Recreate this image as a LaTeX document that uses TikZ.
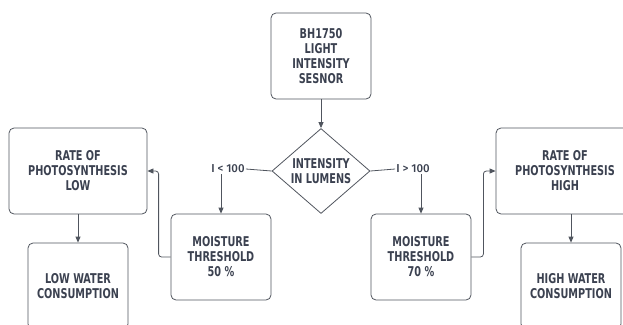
\documentclass[tikz,border=0pt]{standalone}
\usepackage{fontspec}
\setmainfont{Fira Sans}
\newfontfamily\boxfont{DejaVu Sans Condensed}[FakeStretch=0.8]
\newfontfamily\condfont{Fira Sans Medium}
\usepackage{xcolor}
\usepackage{tikz}
\usetikzlibrary{shapes.geometric, positioning, arrows.meta}

\definecolor{inkgray}{HTML}{3B4150}
\definecolor{linegray}{HTML}{50555E}

\begin{document}
\begin{tikzpicture}[x=1pt, y=-1pt,
        component/.style={
                rectangle,
                rounded corners=5pt,
                draw=linegray,
                line width=0.8pt,
                align=center,
                text=inkgray,
                font=\boxfont\bfseries\fontsize{13.5}{15}\selectfont,
                minimum width=100pt,
                minimum height=86pt,
                inner sep=0pt,
        },
        decision/.style={
                diamond,
                draw=linegray,
                line width=0.8pt,
                align=center,
                text=inkgray,
                font=\boxfont\bfseries\fontsize{13.5}{15}\selectfont,
                minimum width=98pt,
                minimum height=85pt,
                inner sep=0pt,
                aspect=1.15,
        },
        cond/.style={text=inkgray, font=\condfont\fontsize{11.5}{13}\selectfont, inner sep=1pt},
        link/.style={draw=linegray, line width=0.8pt},
        flow/.style={link, rounded corners=3pt, -{Triangle[length=6pt, width=5pt]}},
        ]
            \clip (0, 0) rectangle (623, 324);
            % sensor and decision
            \node[component] (sensor) at (321, 56) {BH1750\\LIGHT\\INTENSITY\\SESNOR};
            \node[decision] (intensity) at (321, 171) {INTENSITY\\IN LUMENS};
            \node[cond] (lt) at (228, 169) {I < 100};
            \node[cond] (gt) at (413, 169) {I > 100};
            % low branch
            \node[component] (moistlow) at (221, 257) {MOISTURE\\THRESHOLD\\50 \%};
            \node[component, minimum width=138pt] (ratelow) at (78, 171) {RATE OF\\PHOTOSYNTHESIS\\LOW};
            \node[component] (waterlow) at (78, 286) {LOW WATER\\CONSUMPTION};
            % high branch
            \node[component] (moisthigh) at (421, 257) {MOISTURE\\THRESHOLD\\70 \%};
            \node[component, minimum width=138pt] (ratehigh) at (565, 171) {RATE OF\\PHOTOSYNTHESIS\\HIGH};
            \node[component] (waterhigh) at (571, 286) {HIGH WATER\\CONSUMPTION};

            \draw[flow] (sensor) -- (intensity);
            \draw[link] (intensity.west) -- (lt.east);
            \draw[link] (intensity.east) -- (gt.west);
            \draw[flow] (moistlow.north |- lt.south) -- (moistlow.north);
            \draw[flow] (moisthigh.north |- gt.south) -- (moisthigh.north);
            \draw[flow] (moistlow.west) -- ++(-12, 0) |- (ratelow.east);
            \draw[flow] (moisthigh.east) -- ++(12, 0) |- (ratehigh.west);
            \draw[flow] (ratelow) -- (waterlow);
            \draw[flow] (waterhigh.north |- ratehigh.south) -- (waterhigh.north);
        \end{tikzpicture}
\end{document}
